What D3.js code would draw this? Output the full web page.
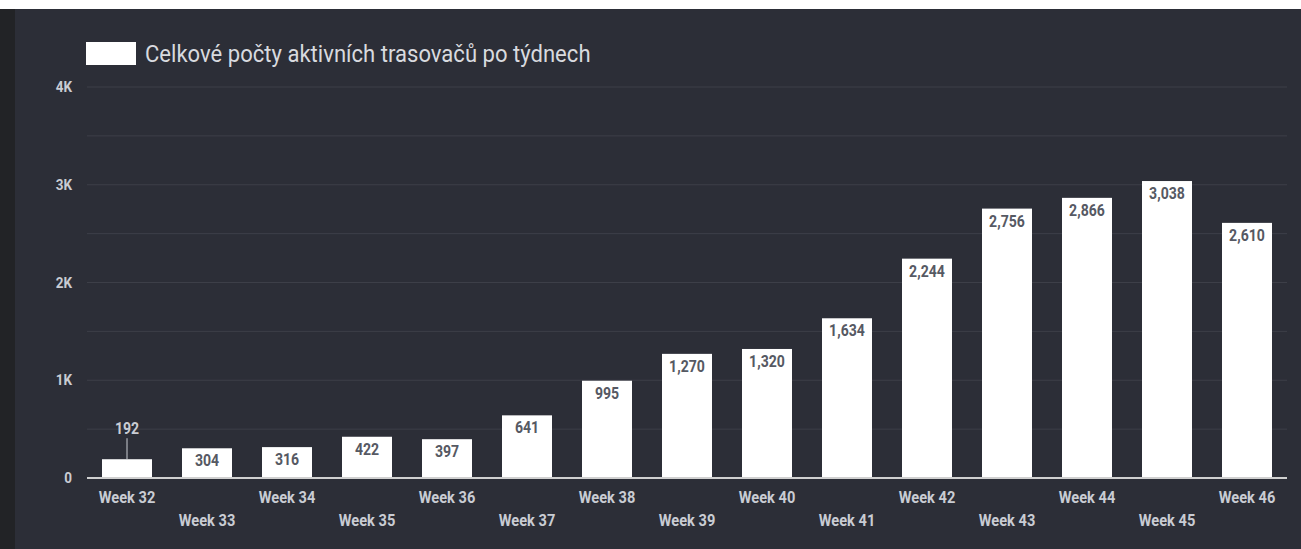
<!DOCTYPE html>
<html>
<head>
<meta charset="utf-8">
<script src="https://cdn.jsdelivr.net/npm/d3@7"></script>
<style>
  body { margin: 0; background: #fff; }
  svg { display: block; }
  .lbl { font-family: "Roboto", sans-serif; }
</style>
</head>
<body>
<div id="chart"></div>
<script>
const weeks = ["Week 32", "Week 33", "Week 34", "Week 35", "Week 36", "Week 37", "Week 38",
  "Week 39", "Week 40", "Week 41", "Week 42", "Week 43", "Week 44", "Week 45", "Week 46"];
const tracers = [192, 304, 316, 422, 397, 641, 995, 1270, 1320, 1634, 2244, 2756, 2866, 3038, 2610];
const yTicks = [0, 1000, 2000, 3000, 4000];
const yTickLabels = ["0", "1K", "2K", "3K", "4K"];
const seriesName = "Celkové počty aktivních trasovačů po týdnech";

const W = 1301, H = 549;
const margin = { top: 87, right: 14, bottom: 71, left: 87 },
  width = W - margin.left - margin.right,
  height = H - margin.top - margin.bottom;

const svg = d3.select("#chart").append("svg").attr("width", W).attr("height", H);

// backgrounds
svg.append("rect").attr("x", 0).attr("y", 9).attr("width", W).attr("height", H - 9).attr("fill", "#2c2e37");
svg.append("rect").attr("x", 0).attr("y", 9).attr("width", 15).attr("height", H - 9).attr("fill", "#222326");

const g = svg.append("g").attr("transform", "translate(" + margin.left + "," + margin.top + ")");

const x = d3.scaleBand().domain(weeks).range([0, width]).paddingInner(0.375).paddingOuter(0.1875);
const y = d3.scaleLinear().domain([0, 4000]).range([height, 0]);

// condensed look: squeeze Roboto horizontally
function label(sel, px, py, size, sx) {
  return sel.append("text").attr("class", "lbl")
    .attr("transform", "translate(" + px + "," + py + ") scale(" + sx + ",1)")
    .attr("font-size", size);
}

// gridlines (major and half steps)
g.append("g").selectAll("line").data(d3.range(500, 4001, 500)).enter().append("line")
  .attr("x1", 0).attr("x2", width)
  .attr("y1", d => y(d)).attr("y2", d => y(d))
  .attr("stroke", "#3d3f48").attr("stroke-width", 1);

// y labels
yTicks.forEach((d, i) => {
  label(g, -15, y(d) + 5, 15, 0.9)
    .attr("text-anchor", "end").attr("font-weight", "bold")
    .attr("fill", "#c9ccd3").text(yTickLabels[i]);
});

// bars
g.selectAll(".bar").data(tracers).enter().append("rect")
  .attr("x", (d, i) => x(weeks[i])).attr("width", x.bandwidth())
  .attr("y", d => y(d)).attr("height", d => height - y(d))
  .attr("fill", "#ffffff");

// baseline
g.append("line").attr("x1", 0).attr("x2", width).attr("y1", height).attr("y2", height)
  .attr("stroke", "#d0d0d0").attr("stroke-width", 2);

// value labels
tracers.forEach((d, i) => {
  const cx = x(weeks[i]) + x.bandwidth() / 2;
  if (height - y(d) < 25) {
    g.append("line").attr("x1", cx).attr("x2", cx).attr("y1", y(d)).attr("y2", y(d) - 21)
      .attr("stroke", "#c9ccd3").attr("stroke-width", 1);
    label(g, cx, y(d) - 25, 16, 0.88)
      .attr("text-anchor", "middle").attr("font-weight", "bold")
      .attr("fill", "#c9ccd3").text(d3.format(",")(d));
  } else {
    label(g, cx, y(d) + 18, 16, 0.88)
      .attr("text-anchor", "middle").attr("font-weight", "bold")
      .attr("fill", "#565963").text(d3.format(",")(d));
  }
});

// x labels, alternating rows
weeks.forEach((d, i) => {
  label(g, x(d) + x.bandwidth() / 2, height + (i % 2 === 0 ? 25 : 48), 17, 0.86)
    .attr("text-anchor", "middle").attr("font-weight", "bold")
    .attr("fill", "#c9ccd3").text(d);
});

// legend
svg.append("rect").attr("x", 86).attr("y", 42).attr("width", 50).attr("height", 23).attr("fill", "#fff");
label(svg, 145, 62, 24, 0.92).attr("fill", "#d8dadf").text(seriesName);
</script>
</body>
</html>
